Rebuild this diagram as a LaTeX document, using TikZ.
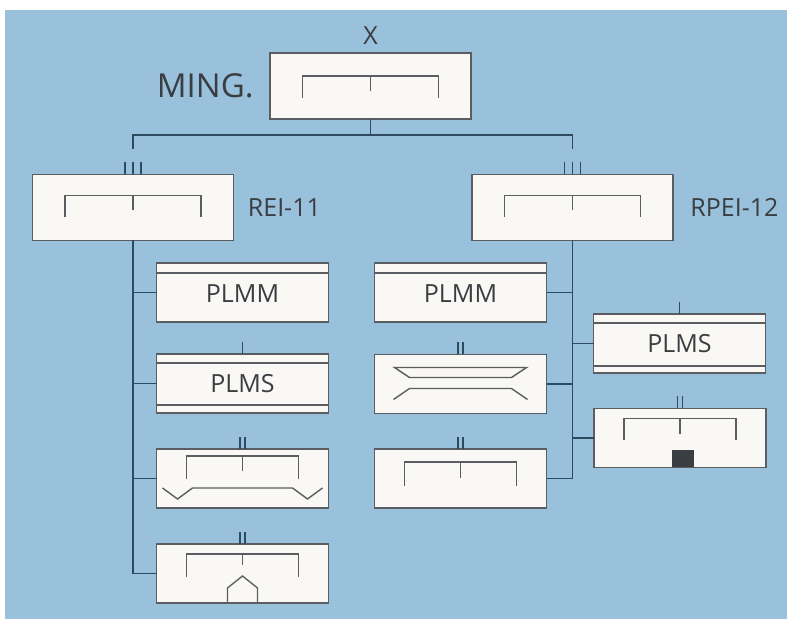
\documentclass[tikz,border=0pt]{standalone}
\usepackage{fontspec}
\setmainfont{Open Sans}
\usetikzlibrary{calc,positioning}

\definecolor{sky}{HTML}{9AC1DC}
\definecolor{paper}{HTML}{FAF8F4}
\definecolor{frame}{HTML}{5A5E62}
\definecolor{wire}{HTML}{2E4A60}
\definecolor{ink}{HTML}{3A3D42}

% bracket glyph inside a box: node, half width, top offset, leg, middle leg
\newcommand{\fork}[5]{%
  \draw[glyph] ($(#1.north)+(-#2,#3+#4)$) -- ++(0,-#4) -- ++(2*#2,0) -- ++(0,#4);
  \draw[glyph] ($(#1.north)+(0,#3)$) -- ++(0,#5);
}
% short strokes above a box
\newcommand{\notches}[2]{%
  \foreach \d in {#2} \draw[wire] ($(#1.north)+(\d,0)$) -- ++(0,-12);
}
% band line across a box: node, side, offset
\newcommand{\band}[3]{%
  \draw[glyph] ($(#1.#2 west)+(0,#3)$) -- ($(#1.#2 east)+(0,#3)$);
}

\begin{document}
\begin{tikzpicture}[x=0.5pt,y=-0.5pt,
    topbox/.style={draw=frame, fill=paper, thick, outer sep=0pt,
      minimum width=100.5pt, minimum height=33pt},
    kidbox/.style={draw=frame, fill=paper, thick, outer sep=0pt,
      minimum width=86pt, minimum height=29.5pt, text=ink,
      font=\fontsize{12.5}{14}\selectfont},
    lowtext/.style={text height=10pt, text depth=-2pt},
    lab/.style={inner sep=0pt, text=ink, font=\fontsize{12.5}{14}\selectfont},
    glyph/.style={draw=frame, line width=0.7pt},
    wire/.style={draw=wire, line width=0.75pt}]
  \useasboundingbox (0,0) rectangle (787,619);
  \fill[white] (0,0) rectangle (787,619);
  \fill[sky] (5,10) rectangle (787,619);

  % top level
  \node[topbox] (ming) at (370.5,86) {};
  \node[topbox] (rei) at (133,207.5) {};
  \node[topbox] (rpei) at (572.5,207.5) {};

  \node[lab, font=\fontsize{16.5}{18}\selectfont, left=8pt of ming] (minglab) {MING.};
  \node[lab, above=4pt of ming] (xlab) {X};
  \node[lab, right=7pt of rei] (reilab) {REI-11};
  \node[lab, right=8.5pt of rpei] (rpeilab) {RPEI-12};

  % second level
  \node[kidbox, lowtext] (l1) at (242.5,292.5) {PLMM};
  \node[kidbox] (l2) at (242.5,383.5) {PLMS};
  \node[kidbox] (l3) at (242.5,478.5) {};
  \node[kidbox] (l4) at (242.5,573.5) {};
  \node[kidbox, lowtext] (m1) at (460.5,292.5) {PLMM};
  \node[kidbox] (m2) at (460.5,384) {};
  \node[kidbox] (m3) at (460.5,478.5) {};
  \node[kidbox] (r1) at (679.5,343.5) {PLMS};
  \node[kidbox] (r2) at (680,438) {};

  % connectors
  \draw[wire] (ming.south) -- ++(0,16) coordinate (bus);
  \coordinate (jl) at ($(rei.north)+(0,-25)$);
  \coordinate (jr) at ($(rpei.north)+(0,-25)$);
  \draw[wire] (jl) |- (bus) -| (jr);
  \foreach \k in {l1,l2,l3,l4} \draw[wire] (rei.south) |- (\k.west);
  \foreach \k in {m1,m2,m3} \draw[wire] (rpei.south) |- (\k.east);
  \foreach \k in {r1,r2} \draw[wire] (rpei.south) |- (\k.west);

  \notches{rei}{-8,0,8}
  \notches{rpei}{-8,0,8}
  \notches{l2}{0}
  \notches{r1}{0}
  \foreach \k in {l3,l4,m2,m3,r2} {\notches{\k}{-2.5,2.5}}

  % glyphs inside the boxes
  \fork{ming}{68}{23}{22}{15}
  \fork{rei}{68}{21}{22}{15}
  \fork{rpei}{68}{21}{22}{15}
  \fork{l3}{56}{7}{23}{15}
  \fork{l4}{56}{10}{23}{11}
  \fork{m3}{56}{13}{24}{16}
  \fork{r2}{56}{10}{22}{16}

  \band{l1}{north}{10}
  \band{m1}{north}{10}
  \band{l2}{north}{9}
  \band{l2}{south}{-8}
  \band{r1}{north}{9}
  \band{r1}{south}{-7}

  \draw[glyph] ($(l3.north)+(-80,39)$) -- ++(15,11) -- ++(15,-11) -- ++(100,0)
    -- ++(15,11) -- ++(15,-11);
  \draw[glyph] ($(l4.south)+(-15,0)$) -- ++(0,-15) -- ++(15,-12) -- ++(15,12) -- ++(0,15);
  \draw[glyph] ($(m2.north)+(-66,13)$) -- ++(132,0) -- ++(-15,10) -- ++(-102,0) -- cycle;
  \draw[glyph] ($(m2.north)+(-67,45)$) -- ++(16,-11) -- ++(102,0) -- ++(16,11);
  \fill[ink] ($(r2.south)+(-8,0)$) rectangle ++(22,-17);
\end{tikzpicture}
\end{document}
